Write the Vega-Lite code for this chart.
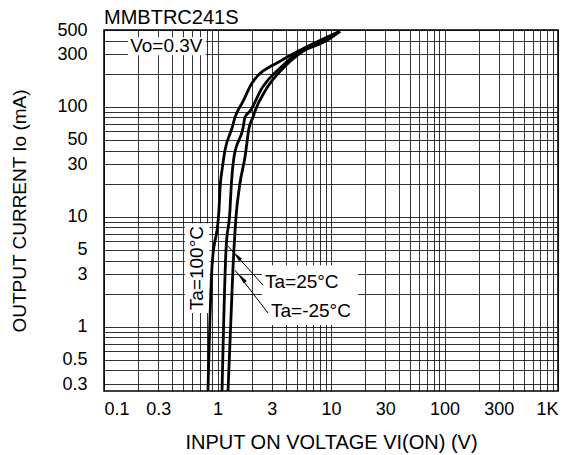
{
  "$schema": "https://vega.github.io/schema/vega-lite/v6.json",
  "width": 454,
  "height": 361,
  "autosize": {"type": "none"},
  "padding": {"left": 104, "top": 30, "right": 13, "bottom": 64},
  "background": "white",
  "config": {
    "font": "Liberation Sans",
    "view": {"stroke": "black", "strokeWidth": 1.5},
    "axis": {
      "grid": true, "gridColor": "black", "gridWidth": 1, "gridOpacity": 0.8,
      "ticks": false, "domain": false,
      "labelFont": "Liberation Sans", "labelFontSize": 18, "labelColor": "black",
      "titleFont": "Liberation Sans", "titleFontSize": 19, "titleFontWeight": "normal", "titleColor": "black",
      "labelOverlap": false
    }
  },
  "title": {"text": "MMBTRC241S", "anchor": "start", "frame": "group", "offset": -7, "fontSize": 20, "fontWeight": "normal", "font": "Liberation Sans", "color": "black"},
  "datasets": {
    "curves": [
      {"v": 0.824, "i": 0.26, "ta": "100"},
      {"v": 0.894, "i": 3.48, "ta": "100"},
      {"v": 1.03, "i": 11.5, "ta": "100"},
      {"v": 1.06, "i": 20, "ta": "100"},
      {"v": 1.096, "i": 26.6, "ta": "100"},
      {"v": 1.164, "i": 40.3, "ta": "100"},
      {"v": 1.342, "i": 64, "ta": "100"},
      {"v": 1.427, "i": 80.5, "ta": "100"},
      {"v": 1.678, "i": 112, "ta": "100"},
      {"v": 2.01, "i": 164, "ta": "100"},
      {"v": 3.7, "i": 266, "ta": "100"},
      {"v": 5.33, "i": 327, "ta": "100"},
      {"v": 12.0, "i": 487, "ta": "100"},
      {"v": 1.096, "i": 0.26, "ta": "25"},
      {"v": 1.188, "i": 4.97, "ta": "25"},
      {"v": 1.288, "i": 11.5, "ta": "25"},
      {"v": 1.315, "i": 17.5, "ta": "25"},
      {"v": 1.397, "i": 34.9, "ta": "25"},
      {"v": 1.678, "i": 64, "ta": "25"},
      {"v": 1.747, "i": 80.5, "ta": "25"},
      {"v": 1.933, "i": 91.3, "ta": "25"},
      {"v": 2.466, "i": 148, "ta": "25"},
      {"v": 3.78, "i": 239, "ta": "25"},
      {"v": 5.01, "i": 307, "ta": "25"},
      {"v": 10.4, "i": 448, "ta": "25"},
      {"v": 12.0, "i": 487, "ta": "25"},
      {"v": 1.238, "i": 0.26, "ta": "-25"},
      {"v": 1.37, "i": 3.48, "ta": "-25"},
      {"v": 1.455, "i": 9.93, "ta": "-25"},
      {"v": 1.578, "i": 20.2, "ta": "-25"},
      {"v": 1.747, "i": 34.9, "ta": "-25"},
      {"v": 1.895, "i": 64, "ta": "-25"},
      {"v": 2.055, "i": 80.5, "ta": "-25"},
      {"v": 2.14, "i": 91.3, "ta": "-25"},
      {"v": 2.62, "i": 139, "ta": "-25"},
      {"v": 3.93, "i": 234, "ta": "-25"},
      {"v": 5.33, "i": 307, "ta": "-25"},
      {"v": 9.22, "i": 403, "ta": "-25"},
      {"v": 12.0, "i": 487, "ta": "-25"}
    ]
  },
  "layer": [
    {
      "data": {"values": [
        {"v": 0.163, "v2": 0.79, "i": 430, "i2": 294},
        {"v": 0.517, "v2": 0.85, "i": 8.75, "i2": 1.33},
        {"v": 2.47, "v2": 17.3, "i": 3.63, "i2": 1.035}
      ]},
      "mark": {"type": "rect", "fill": "white", "stroke": null},
      "encoding": {
        "x": {"field": "v", "type": "quantitative",
          "scale": {"type": "log", "domain": [0.1, 1000], "nice": false},
          "axis": {
            "title": "INPUT ON VOLTAGE VI(ON) (V)",
            "titleFontSize": 20,
            "values": [0.1,0.2,0.3,0.4,0.5,0.6,0.7,0.8,0.9,1,2,3,4,5,6,7,8,9,10,20,30,40,50,60,70,80,90,100,200,300,400,500,600,700,800,900,1000],
            "labelExpr": "datum.value == 1000 ? '1K' : (indexof([0.1,0.3,1,3,10,30,100,300], datum.value) >= 0 ? format(datum.value, '~g') : '')",
            "labelPadding": 9, "titlePadding": 14
          }},
        "x2": {"field": "v2"},
        "y": {"field": "i", "type": "quantitative",
          "scale": {"type": "log", "domain": [0.26, 500], "nice": false},
          "axis": {
            "title": "OUTPUT CURRENT Io (mA)",
            "values": [0.3,0.4,0.5,0.6,0.7,0.8,0.9,1,2,3,4,5,6,7,8,9,10,20,30,40,50,60,70,80,90,100,200,300,400,500],
            "labelExpr": "indexof([0.3,0.5,1,3,5,10,30,50,100,300,500], datum.value) >= 0 ? format(datum.value, '~g') : ''",
            "labelPadding": 17, "titlePadding": 27
          }},
        "y2": {"field": "i2"}
      }
    },
    {
      "data": {"name": "curves"},
      "mark": {"type": "line", "color": "black", "strokeWidth": 2.8, "interpolate": "monotone"},
      "encoding": {
        "x": {"field": "v", "type": "quantitative"},
        "y": {"field": "i", "type": "quantitative"},
        "detail": {"field": "ta"},
        "order": {"field": "i", "type": "quantitative"}
      }
    },
    {
      "data": {"values": [
        {"v": 2.52, "i": 2.39, "v2": 1.213, "i2": 5.52},
        {"v": 2.79, "i": 1.33, "v2": 1.426, "i2": 3.27}
      ]},
      "mark": {"type": "rule", "color": "black", "strokeWidth": 1},
      "encoding": {
        "x": {"field": "v", "type": "quantitative"},
        "y": {"field": "i", "type": "quantitative"},
        "x2": {"field": "v2"},
        "y2": {"field": "i2"}
      }
    },
    {
      "data": {"values": [
        {"v": 1.486, "i": 4.39, "ang": 318},
        {"v": 1.644, "i": 2.77, "ang": 322}
      ]},
      "mark": {"type": "point", "shape": "M0,-1L0.38,1L-0.38,1Z", "filled": true, "color": "black", "opacity": 1, "size": 110},
      "encoding": {
        "x": {"field": "v", "type": "quantitative"},
        "y": {"field": "i", "type": "quantitative"},
        "angle": {"field": "ang", "type": "quantitative", "scale": null}
      }
    },
    {
      "data": {"values": [
        {"v": 0.17, "i": 356, "t": "Vo=0.3V"},
        {"v": 2.62, "i": 2.55, "t": "Ta=25°C"},
        {"v": 2.96, "i": 1.39, "t": "Ta=-25°C"}
      ]},
      "mark": {"type": "text", "align": "left", "baseline": "middle", "fontSize": 19, "font": "Liberation Sans", "color": "black"},
      "encoding": {
        "x": {"field": "v", "type": "quantitative"},
        "y": {"field": "i", "type": "quantitative"},
        "text": {"field": "t"}
      }
    },
    {
      "data": {"values": [
        {"v": 0.659, "i": 3.41, "t": "Ta=100°C"}
      ]},
      "mark": {"type": "text", "align": "center", "baseline": "middle", "angle": 270, "fontSize": 19, "font": "Liberation Sans", "color": "black"},
      "encoding": {
        "x": {"field": "v", "type": "quantitative"},
        "y": {"field": "i", "type": "quantitative"},
        "text": {"field": "t"}
      }
    }
  ]
}
